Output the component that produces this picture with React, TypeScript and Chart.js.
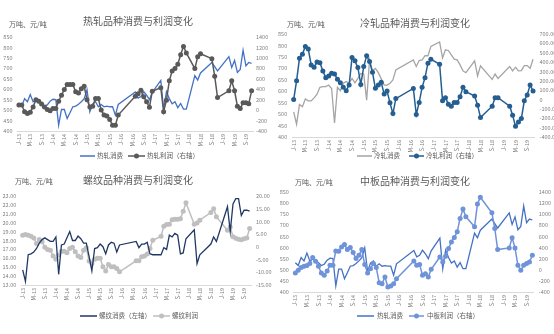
import React, { useEffect, useRef } from "react";
import { Chart, registerables } from "chart.js";
Chart.register(...registerables);

const _ = null;

const categories = [
  "J-13","F-13","M-13","A-13","M-13","J-13","J-13","A-13","S-13","O-13","N-13","D-13",
  "J-14","F-14","M-14","A-14","M-14","J-14","J-14","A-14","S-14","O-14","N-14","D-14",
  "J-15","F-15","M-15","A-15","M-15","J-15","J-15","A-15","S-15","O-15","N-15","D-15",
  "J-16","F-16","M-16","A-16","M-16","J-16","J-16","A-16","S-16","O-16","N-16","D-16",
  "J-17","F-17","M-17","A-17","M-17","J-17","J-17","A-17","S-17","O-17","N-17","D-17",
  "J-18","F-18","M-18","A-18","M-18","J-18","J-18","A-18","S-18","O-18","N-18","D-18",
  "J-19","F-19","M-19","A-19","M-19","J-19","J-19","A-19","S-19","O-19","N-19",
];

// 热轧消费 (万吨)
const hrcConsumption = [
  532,519,555,540,575,540,548,540,532,519,525,543,
  552,550,428,503,503,460,487,516,519,528,540,555,
  598,492,530,540,516,527,516,519,516,516,476,527,
  _,_,_,_,_,587,558,565,588,572,550,585,
  _,_,642,505,588,555,530,540,512,532,505,505,
  _,_,665,644,678,_,_,_,728,708,688,_,
  _,_,756,704,738,680,695,787,712,728,724,
];
// 热轧利润 (元/吨)
const hrcProfit = [
  100,100,-30,-65,-40,60,200,170,115,60,10,-10,
  30,30,170,285,395,490,490,490,350,330,410,455,
  200,60,75,220,220,0,-95,-115,-180,-290,-290,-95,
  _,_,_,_,_,265,315,380,255,160,55,360,
  _,_,430,-30,190,560,750,795,880,1060,1220,1095,
  _,_,795,1020,1080,_,_,_,985,650,240,_,
  _,_,370,560,370,75,30,140,140,120,370,
];
// 冷轧消费
const crcConsumption = [
  510,456,542,532,566,558,558,571,587,617,620,620,
  627,612,461,617,602,635,642,635,656,637,656,678,
  675,561,737,690,700,681,654,627,627,635,649,693,
  _,_,_,_,_,737,708,734,737,755,755,796,
  _,_,815,745,781,778,759,740,737,715,689,681,
  _,_,733,667,711,_,_,_,652,675,656,_,
  _,_,708,689,705,689,690,712,712,700,740,
];
// 冷轧利润
const crcProfit = [
  0,200,442,485,567,540,370,345,400,392,305,234,
  252,280,273,216,180,130,94,155,450,413,341,162,
  352,467,406,291,120,155,184,58,90,-35,-150,10,
  _,_,_,_,_,119,-160,-31,130,234,388,431,
  _,_,377,-13,19,-49,-71,-31,-31,30,130,84,
  _,_,37,-60,-192,_,_,_,-71,19,19,_,
  _,_,-71,-167,-286,-239,-203,-13,48,155,90,
];
// 螺纹消费
const rebarConsumption = [
  14.7,13.4,16.4,16.5,16.7,17.1,17.7,18.1,18.3,18.1,17.9,17.9,
  18.4,14.2,17.5,17.6,18.3,19.0,18.0,18.0,18.5,18.2,17.7,17.7,
  16.2,14.6,17.1,17.2,17.6,17.3,16.5,17.5,17.8,17.7,16.7,17.5,
  _,_,_,_,_,17.9,17.2,17.6,17.6,17.8,16.5,16.4,
  _,_,16.4,17.2,17.0,18.6,18.4,18.8,18.6,16.5,16.6,18.2,
  _,_,19.2,15.4,16.4,_,_,_,17.6,18.4,17.9,_,
  _,_,21.8,19.0,22.1,22.7,22.7,20.8,21.4,21.4,21.3,
];
// 螺纹利润
const rebarProfit = [
  4.6,4.9,4.6,4.2,3.5,1.3,2.9,2.0,-0.2,-1.0,-1.3,-3.6,
  -4.9,-3.2,-1.7,-1.7,-2.3,-0.6,-0.2,-1.9,-3.6,-4.2,-1.3,-0.4,
  -5.6,-6.5,-4.9,-4.5,-4.5,-7.8,-9.5,-6.9,-7.8,-7.8,-8.5,-9.8,
  _,_,_,_,_,-5.5,-5.5,-3.9,-3.6,-2.8,-0.6,2.6,
  _,_,4.2,8.1,8.8,8.9,10.7,10.9,10.9,11.1,14.0,17.3,
  _,_,8.9,9.4,10.5,_,_,_,13.5,15.0,11.8,_,
  _,_,6.5,7.8,4.0,3.4,3.0,2.8,3.2,3.5,7.2,
];
// 中板利润
const plateProfit = [
  -58,-10,39,63,75,111,219,153,63,-58,-100,-22,
  81,81,340,334,412,454,364,400,310,201,262,364,
  93,-58,20,111,39,-232,-250,-130,-311,-293,-250,-160,
  _,_,_,_,_,159,81,93,-100,-70,-130,9,
  _,_,231,141,243,382,502,581,683,924,1093,954,
  _,_,773,1183,1304,_,_,_,1026,743,364,_,
  _,_,394,575,394,81,-10,81,111,141,262,
];

const titles = ["热轧品种消费与利润变化", "冷轧品种消费与利润变化", "螺纹品种消费与利润变化", "中板品种消费与利润变化"];
const unitText = "万吨、元/吨";
const legendLabels = [
  ["热轧消费", "热轧利润（右轴）"],
  ["冷轧消费", "冷轧利润（右轴）"],
  ["螺纹消费（左轴）", "螺纹利润"],
  ["热轧消费", "中板利润（右轴）"],
];

const FONT = "'Noto Sans CJK SC', 'Noto Sans', sans-serif";
const TEXT = "#595959";
const TICK = "#7F7F7F";

const int = (v: number) => String(v);
const dec2z = (v: number) => (v === 0 ? "0" : v.toFixed(2));
const dec2 = (v: number) => v.toFixed(2);

type Panel = {
  left: number; top: number;
  title: string; titleX: number; titleY: number;
  unitX: number; unitY: number;
  padTop: number; xH: number; lW: number; rW: number; rPad: number;
  cons: (number | null)[]; prof: (number | null)[];
  consColor: string; profColor: string; markerColor: string;
  consLabel: string; profLabel: string;
  lMin: number; lMax: number; lStep: number; lFmt: (v: number) => string;
  rMin: number; rMax: number; rStep: number; rFmt: (v: number) => string;
  legY: number; leg1: [number, number, number]; leg2: [number, number, number];
};

const panels: Panel[] = [
  {
    left: 0, top: 0, title: titles[0], titleX: 138, titleY: 21, unitX: 9, unitY: 24,
    padTop: 37, xH: 36, lW: 17.5, rW: 24, rPad: 3,
    cons: hrcConsumption, prof: hrcProfit, consColor: "#4472C4", profColor: "#595959", markerColor: "#595959",
    consLabel: legendLabels[0][0], profLabel: legendLabels[0][1],
    lMin: 400, lMax: 850, lStep: 50, lFmt: int, rMin: -400, rMax: 1400, rStep: 200, rFmt: int,
    legY: 156, leg1: [80, 95, 97], leg2: [128, 145, 147],
  },
  {
    left: 277, top: 0, title: titles[1], titleX: 138, titleY: 23, unitX: 10, unitY: 24,
    padTop: 34, xH: 30, lW: 15.2, rW: 19.5, rPad: 5,
    cons: crcConsumption, prof: crcProfit, consColor: "#A5A5A5", profColor: "#255E91", markerColor: "#255E91",
    consLabel: legendLabels[1][0], profLabel: legendLabels[1][1],
    lMin: 400, lMax: 850, lStep: 50, lFmt: int, rMin: -400, rMax: 700, rStep: 100, rFmt: dec2z,
    legY: 156, leg1: [80, 95, 97], leg2: [132, 147, 149],
  },
  {
    left: 0, top: 167, title: titles[2], titleX: 138, titleY: 13, unitX: 15, unitY: 14,
    padTop: 29, xH: 49, lW: 21.3, rW: 26, rPad: 5,
    cons: rebarConsumption, prof: rebarProfit, consColor: "#203864", profColor: "#BFBFBF", markerColor: "#BFBFBF",
    consLabel: legendLabels[2][0], profLabel: legendLabels[2][1],
    lMin: 13, lMax: 23, lStep: 1, lFmt: dec2, rMin: -15, rMax: 20, rStep: 5, rFmt: dec2z,
    legY: 149, leg1: [80, 97, 99], leg2: [153, 170, 172],
  },
  {
    left: 277, top: 167, title: titles[3], titleX: 138, titleY: 14, unitX: 18, unitY: 15,
    padTop: 25, xH: 42, lW: 16.9, rW: 20.2, rPad: 5,
    cons: hrcConsumption, prof: plateProfit, consColor: "#4472C4", profColor: "#6F93D8", markerColor: "#6F93D8",
    consLabel: legendLabels[3][0], profLabel: legendLabels[3][1],
    lMin: 400, lMax: 850, lStep: 50, lFmt: int, rMin: -400, rMax: 1400, rStep: 200, rFmt: int,
    legY: 149, leg1: [80, 97, 100], leg2: [132, 147, 150],
  },
];

function textPlugin(p: Panel) {
  return {
    id: "texts",
    afterDraw(chart: any) {
      const ctx = chart.ctx as CanvasRenderingContext2D;
      ctx.save();
      ctx.fillStyle = TEXT;
      ctx.textBaseline = "middle";
      ctx.textAlign = "center";
      ctx.font = `10px ${FONT}`;
      ctx.fillText(p.title, p.titleX, p.titleY);
      ctx.textAlign = "left";
      ctx.font = `7px ${FONT}`;
      ctx.fillText(unitText, p.unitX, p.unitY);
      // legend
      ctx.font = `6.5px ${FONT}`;
      const y = p.legY;
      ctx.strokeStyle = p.consColor;
      ctx.lineWidth = 1.5;
      ctx.beginPath();
      ctx.moveTo(p.leg1[0], y);
      ctx.lineTo(p.leg1[1], y);
      ctx.stroke();
      ctx.fillStyle = TEXT;
      ctx.fillText(p.consLabel, p.leg1[2], y);
      ctx.strokeStyle = p.profColor;
      ctx.beginPath();
      ctx.moveTo(p.leg2[0], y);
      ctx.lineTo(p.leg2[1], y);
      ctx.stroke();
      ctx.fillStyle = p.markerColor;
      ctx.beginPath();
      ctx.arc((p.leg2[0] + p.leg2[1]) / 2, y, 2.5, 0, Math.PI * 2);
      ctx.fill();
      ctx.fillStyle = TEXT;
      ctx.fillText(p.profLabel, p.leg2[2], y);
      ctx.restore();
    },
  };
}

function ChartPanel({ p }: { p: Panel }) {
  const ref = useRef<HTMLCanvasElement>(null);
  useEffect(() => {
    if (!ref.current) return;
    const tickFont = { family: FONT, size: 5.5 };
    const rebar = p.left === 0 && p.top === 167;
    const chart = new Chart(ref.current, {
      type: "line",
      data: {
        labels: categories,
        datasets: [
          {
            label: p.consLabel,
            data: p.cons,
            yAxisID: "yL",
            borderColor: p.consColor,
            backgroundColor: p.consColor,
            borderWidth: 1.3,
            pointRadius: 0,
            spanGaps: true,
            tension: 0,
            order: rebar ? 1 : 2,
          },
          {
            label: p.profLabel,
            data: p.prof,
            yAxisID: "yR",
            borderColor: p.profColor,
            backgroundColor: p.markerColor,
            borderWidth: 1.5,
            pointRadius: 2.5,
            pointBorderWidth: 0,
            pointBackgroundColor: p.markerColor,
            spanGaps: true,
            tension: 0,
            order: rebar ? 2 : 1,
          },
        ],
      },
      options: {
        responsive: false,
        animation: false,
        devicePixelRatio: 1,
        events: [],
        layout: { padding: { top: p.padTop, bottom: 0, left: 0, right: 0 } },
        plugins: { legend: { display: false }, title: { display: false }, tooltip: { enabled: false } },
        scales: {
          x: {
            type: "category",
            offset: true,
            grid: { display: false, drawTicks: false },
            border: { display: true, color: "#D9D9D9" },
            ticks: {
              autoSkip: false,
              minRotation: 90,
              maxRotation: 90,
              padding: 3,
              color: TICK,
              font: { family: FONT, size: 5.5 },
              callback: (_v: any, i: number) => (i % 4 === 0 ? categories[i] : ""),
            },
            afterFit: (s: any) => { s.height = p.xH; },
          },
          yL: {
            position: "left",
            min: p.lMin,
            max: p.lMax,
            grid: { display: false, drawTicks: false },
            border: { display: false },
            ticks: { autoSkip: false, stepSize: p.lStep, color: TICK, font: tickFont, padding: 5, callback: (v: any) => p.lFmt(Number(v)) },
            afterFit: (s: any) => { s.width = p.lW; },
          },
          yR: {
            position: "right",
            min: p.rMin,
            max: p.rMax,
            grid: { display: false, drawTicks: false },
            border: { display: false },
            ticks: { autoSkip: false, stepSize: p.rStep, color: TICK, font: tickFont, padding: p.rPad, callback: (v: any) => p.rFmt(Number(v)) },
            afterFit: (s: any) => { s.width = p.rW; },
          },
        },
      } as any,
      plugins: [textPlugin(p)],
    });
    return () => chart.destroy();
  }, []);
  return (
    <canvas
      ref={ref}
      width={277}
      height={167}
      style={{ position: "absolute", left: p.left, top: p.top, width: 277, height: 167 }}
    />
  );
}

export default function App() {
  return (
    <div style={{ position: "fixed", left: 0, top: 0, width: 554, height: 334, background: "#fff" }}>
      {panels.map((p, i) => (
        <ChartPanel key={i} p={p} />
      ))}
    </div>
  );
}
